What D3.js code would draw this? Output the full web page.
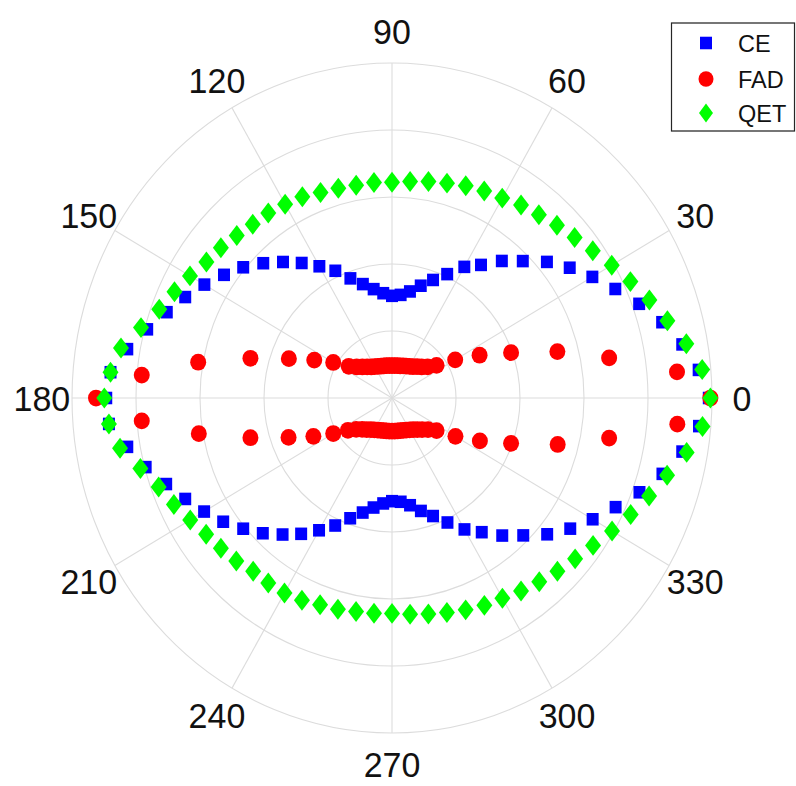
<!DOCTYPE html>
<html>
<head>
<meta charset="utf-8">
<script src="https://cdn.jsdelivr.net/npm/d3@7"></script>
<style>
  html, body { margin: 0; padding: 0; background: #fff; }
  svg { display: block; }
  text { font-family: "Liberation Sans", Arial, Helvetica, sans-serif; }
</style>
</head>
<body>
<svg id="chart" width="796" height="786"></svg>
<script>
// Angles in degrees, one sample every 5 degrees
const angles = d3.range(0, 360, 5);

// Normalised radial values per series (0..355 deg)
const ceValues = [
  0.990, 0.962, 0.921, 0.874, 0.822, 0.770, 0.723, 0.678, 0.632, 0.578, 0.534, 0.485,
  0.452, 0.408, 0.375, 0.347, 0.323, 0.309, 0.305, 0.314, 0.330, 0.352, 0.380, 0.419,
  0.454, 0.492, 0.530, 0.569, 0.607, 0.641, 0.677, 0.713, 0.749, 0.792, 0.840, 0.883,
  0.893, 0.888, 0.840, 0.797, 0.751, 0.713, 0.678, 0.644, 0.607, 0.571, 0.532, 0.495,
  0.456, 0.420, 0.382, 0.354, 0.332, 0.316, 0.308, 0.311, 0.325, 0.349, 0.375, 0.410,
  0.453, 0.489, 0.536, 0.580, 0.633, 0.680, 0.724, 0.771, 0.823, 0.875, 0.921, 0.963
];
const fadValues = [
  0.995, 0.894, 0.689, 0.535, 0.396, 0.302, 0.228, 0.170, 0.145, 0.131, 0.122, 0.114,
  0.109, 0.105, 0.102, 0.099, 0.098, 0.097, 0.097, 0.097, 0.098, 0.099, 0.101, 0.104,
  0.108, 0.113, 0.121, 0.131, 0.144, 0.165, 0.212, 0.268, 0.343, 0.458, 0.615, 0.785,
  0.925, 0.785, 0.613, 0.458, 0.344, 0.271, 0.212, 0.168, 0.146, 0.132, 0.123, 0.115,
  0.110, 0.106, 0.103, 0.101, 0.100, 0.099, 0.099, 0.099, 0.100, 0.101, 0.103, 0.106,
  0.110, 0.115, 0.123, 0.133, 0.147, 0.170, 0.229, 0.303, 0.396, 0.536, 0.689, 0.895
];
const qetValues = [
  0.995, 0.973, 0.934, 0.891, 0.856, 0.822, 0.793, 0.766, 0.745, 0.729, 0.714, 0.703,
  0.689, 0.682, 0.674, 0.664, 0.656, 0.649, 0.644, 0.646, 0.645, 0.648, 0.653, 0.663,
  0.668, 0.674, 0.677, 0.686, 0.698, 0.708, 0.729, 0.750, 0.774, 0.812, 0.860, 0.883,
  0.899, 0.888, 0.863, 0.814, 0.776, 0.752, 0.728, 0.709, 0.698, 0.688, 0.675, 0.674,
  0.672, 0.666, 0.657, 0.653, 0.647, 0.645, 0.643, 0.648, 0.655, 0.663, 0.673, 0.683,
  0.690, 0.703, 0.716, 0.731, 0.747, 0.767, 0.794, 0.823, 0.855, 0.890, 0.935, 0.974
];

const seriesNames = ["CE", "FAD", "QET"];
const seriesColors = ["#0000ff", "#ff0000", "#00ff00"];
const radialTicks = [0.2, 0.4, 0.6, 0.8, 1.0];
const angleTicks = d3.range(0, 360, 30);

// Layout
const R = 320;
const sy = 335 / 320;          // vertical stretch of the figure
const cx = 392;
const cy = 398 / sy;

const svg = d3.select("#chart");
const root = svg.append("g").attr("transform", `scale(1,${sy})`);

const rScale = d3.scaleLinear().domain([0, 1]).range([0, R]);
const toRad = d => d * Math.PI / 180;
const px = (deg, r) => cx + rScale(r) * Math.cos(toRad(deg));
const py = (deg, r) => cy - rScale(r) * Math.sin(toRad(deg));

// Grid
const grid = root.append("g").attr("fill", "none").attr("stroke", "#dcdcdc").attr("stroke-width", 1.1);
grid.selectAll("circle.ring").data(radialTicks).join("circle")
  .attr("class", "ring")
  .attr("cx", cx).attr("cy", cy)
  .attr("r", d => rScale(d));
grid.selectAll("line.spoke").data(angleTicks).join("line")
  .attr("class", "spoke")
  .attr("x1", cx).attr("y1", cy)
  .attr("x2", d => px(d, 1)).attr("y2", d => py(d, 1));

// Angle labels
root.append("g").selectAll("text").data(angleTicks).join("text")
  .attr("x", d => px(d, 1.094))
  .attr("y", d => py(d, 1.094))
  .attr("text-anchor", "middle")
  .attr("dominant-baseline", "central")
  .attr("font-size", 34)
  .attr("fill", "#111")
  .text(d => d);

// Marker shapes
const symbolPath = {
  CE: s => { const h = s.sq / 2; return `M${-h},${-h}H${h}V${h}H${-h}Z`; },
  FAD: s => { const r = s.ci / 2; return `M${r},0A${r},${r},0,1,1,${-r},0A${r},${r},0,1,1,${r},0Z`; },
  QET: s => { const w = s.dw / 2, h = s.dh / 2; return `M0,${-h}L${w},0L0,${h}L${-w},0Z`; }
};
const plotSize = { sq: 12, ci: 16, dw: 16, dh: 20 };
const legendSize = { sq: 12, ci: 15, dw: 14, dh: 18 };

const seriesData = [ceValues, fadValues, qetValues];
seriesNames.forEach((name, i) => {
  const pts = angles.map((a, j) => ({ a, r: seriesData[i][j] }));
  root.append("g").selectAll("path").data(pts).join("path")
    .attr("d", symbolPath[name](plotSize))
    .attr("transform", d => `translate(${px(d.a, d.r)},${py(d.a, d.r)})`)
    .attr("fill", seriesColors[i]);
});

// Legend
const lg = root.append("g");
lg.append("rect")
  .attr("x", 671.5).attr("y", 23 / sy)
  .attr("width", 123).attr("height", 108 / sy)
  .attr("fill", "#fff").attr("stroke", "#262626").attr("stroke-width", 1.2);
const legendY = [43, 79, 113].map(v => v / sy);
seriesNames.forEach((name, i) => {
  lg.append("path")
    .attr("d", symbolPath[name](legendSize))
    .attr("transform", `translate(706,${legendY[i]})`)
    .attr("fill", seriesColors[i]);
  lg.append("text")
    .attr("x", 738).attr("y", legendY[i])
    .attr("dominant-baseline", "central")
    .attr("font-size", 23.5)
    .attr("fill", "#111")
    .text(name);
});
</script>
</body>
</html>
